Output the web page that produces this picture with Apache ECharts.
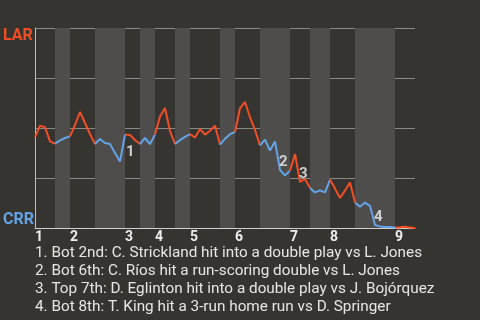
<!DOCTYPE html>
<html><head><meta charset="utf-8">
<script src="https://cdn.jsdelivr.net/npm/echarts@6/dist/echarts.min.js"></script>
<style>html,body{margin:0;padding:0;background:#363430;}#c{width:480px;height:320px;}</style>
</head><body><div id="c"></div>
<script>
// LAR win probability (%) after each plate appearance, index 0 = first pitch
const winProb = [
  45.3, 51.2, 50.4, 43.3, 42.2, 43.8, 45.0, 45.8, 51.5, 58.0,
  52.5, 47.0, 42.0, 44.5, 42.5, 42.0, 37.5, 33.3, 46.7, 46.5,
  44.0, 42.0, 45.0, 42.0, 46.7, 55.8, 60.0, 48.5, 42.0, 43.9,
  45.6, 46.9, 45.3, 49.5, 46.7, 48.6, 51.2, 41.7, 44.6, 46.9,
  48.0, 59.9, 63.0, 55.4, 49.0, 41.3, 44.2, 38.7, 43.3, 29.0,
  26.3, 28.7, 37.0, 23.1, 24.5, 20.0, 17.8, 18.8, 17.8, 24.2,
  19.7, 15.0, 18.7, 22.8, 12.8, 10.6, 12.7, 11.1, 1.5, 0.8,
  0.5, 0.5, 0.3, 0.4, 0.6, 0.3, 0.0
];
// index where each half-inning starts (last = end of game)
const halfStarts = [0, 4, 7, 12, 18, 21, 24, 28, 31, 37, 40, 45, 51, 55, 59, 64, 72, 76];
const inningLabels = ['1','2','3','4','5','6','7','8','9'];
const teamTop = 'LAR';
const teamBottom = 'CRR';
const annIdx = [17, 49, 53, 68];
const annText = ['1', '2', '3', '4'];
const annLines = [
  '1. Bot 2nd: C. Strickland hit into a double play vs L. Jones',
  '2. Bot 6th: C. Ríos hit a run-scoring double vs L. Jones',
  '3. Top 7th: D. Eglinton hit into a double play vs J. Bojórquez',
  '4. Bot 8th: T. King hit a 3-run home run vs D. Springer'
];

const RED = '#F24E26', BLUE = '#64A4E6';
const chart = echarts.init(document.getElementById('c'), null, {renderer: 'canvas'});
const N = winProb.length - 1;

const series = [];
for (let h = 0; h < halfStarts.length - 1; h++) {
  const d = [];
  for (let i = halfStarts[h]; i <= halfStarts[h + 1]; i++) d.push([i, winProb[i]]);
  series.push({
    type: 'line', data: d, showSymbol: false, symbol: 'none', silent: true,
    lineStyle: {color: h % 2 === 0 ? RED : BLUE, width: 2}, z: 3,
    animation: false
  });
}
// shaded bottom halves
const bands = [];
for (let h = 1; h < halfStarts.length - 1; h += 2) bands.push([{xAxis: halfStarts[h]}, {xAxis: halfStarts[h + 1]}]);
series.push({
  type: 'line', data: [], silent: true, animation: false,
  markArea: {silent: true, itemStyle: {color: '#4e4d4b'}, data: bands}, z: 1
});
series.push({
  type: 'scatter', symbolSize: 0, silent: true, animation: false, z: 5,
  data: annIdx.map((i, k) => ({
    value: [i, winProb[i]], name: annText[k],
    label: k === 0 ? {offset: [7, -2]} : undefined
  })),
  label: {show: true, position: [-1, 0], align: 'left', verticalAlign: 'bottom',
    formatter: p => p.name, color: '#f2f2f2', fontWeight: 'bold', fontSize: 15, fontFamily: 'Roboto'}
});

chart.setOption({
  backgroundColor: '#363430',
  animation: false,
  title: {
    text: annLines.join('\n'), left: 35, top: 244, padding: 0,
    textStyle: {color: '#e6e6e6', fontSize: 15.3, fontWeight: 'normal', fontFamily: 'Roboto', lineHeight: 18}
  },
  grid: {left: 34, right: 65, top: 28, height: 200},
  xAxis: {
    type: 'value', min: 0, max: N, offset: 2,
    splitLine: {show: false}, axisTick: {show: false},
    axisLine: {show: true, lineStyle: {color: '#cfcfcf', width: 1}},
    axisLabel: {
      customValues: halfStarts.filter((s, k) => k % 2 === 0 && k < halfStarts.length - 1),
      formatter: (v) => inningLabels[halfStarts.indexOf(v) / 2],
      align: 'left', margin: 0, color: '#eeeeee', fontWeight: 'bold', fontSize: 14, fontFamily: 'Roboto'
    }
  },
  yAxis: [{
    type: 'value', min: 0, max: 100, interval: 25, position: 'left',
    splitLine: {show: true, showMinLine: false, lineStyle: {color: '#8a8a88', width: 1}},
    axisLine: {show: true, lineStyle: {color: '#bdbdbd'}}, axisTick: {show: false},
    axisLabel: {customValues: [100], formatter: () => teamTop, align: 'left', verticalAlign: 'top',
      margin: 32, color: RED, fontWeight: 'bold', fontSize: 16, fontFamily: 'Roboto'}
  }, {
    type: 'value', min: 0, max: 100, interval: 25, position: 'left',
    splitLine: {show: false}, axisLine: {show: false}, axisTick: {show: false},
    axisLabel: {customValues: [0], formatter: () => teamBottom, align: 'left', verticalAlign: 'bottom',
      margin: 32, color: BLUE, fontWeight: 'bold', fontSize: 16, fontFamily: 'Roboto'}
  }],
  series: series
});
</script></body></html>
